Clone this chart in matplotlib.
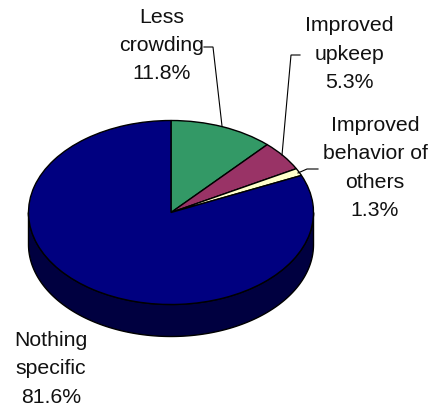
import numpy as np
import matplotlib
matplotlib.use("Agg")
import matplotlib.pyplot as plt

categories = ["Less\ncrowding", "Improved\nupkeep", "Improved\nbehavior of\nothers", "Nothing\nspecific"]
values = [11.8, 5.3, 1.3, 81.6]
colors = ["#339966", "#993366", "#FFFFCC", "#000080"]
side_color = "#000040"

W, H = 432, 409
CX, CY, RX, RY = 171.0, 212.5, 142.5, 92.0
DEPTH = 32.0 / RY

plt.rcParams["font.family"] = ["Liberation Sans"]
fig = plt.figure(figsize=(W / 100, H / 100), dpi=100, facecolor="white")

ax = fig.add_axes([0, 0, 1, 1])
# Side wall of the 3-D disc
t = np.linspace(np.pi, 2 * np.pi, 200)
xs = np.concatenate([np.cos(t), np.cos(t[::-1])])
ys = np.concatenate([np.sin(t) - DEPTH, np.sin(t[::-1])])
ax.fill(xs, ys, facecolor=side_color, edgecolor="black", linewidth=1.0, zorder=1)
ax.pie(values, colors=colors, startangle=90, counterclock=False, radius=1,
       wedgeprops=dict(edgecolor="black", linewidth=1.0, zorder=2))
ax.set_aspect("auto")
ax.set_xlim(-CX / RX, (W - CX) / RX)
ax.set_ylim((CY - H) / RY, CY / RY)
ax.axis("off")

# Overlay in pixel coordinates for labels and leader lines
ov = fig.add_axes([0, 0, 1, 1], facecolor="none")
ov.set_xlim(0, W)
ov.set_ylim(H, 0)
ov.axis("off")

label_pos = [(162, 45.5), (349, 54), (375, 168), (51, 369)]
for name, val, (x, y) in zip(categories, values, label_pos):
    ov.text(x, y, f"{name}\n{val:.1f}%", ha="center", va="center",
            fontsize=15.3, color="#111111", linespacing=1.63)

leaders = [
    ([204, 213, 222], [47, 47, 126]),
    ([300, 291, 282], [55, 55, 155]),
    ([318, 307, 298], [169, 169, 173]),
]
for lx, ly in leaders:
    ov.plot(lx, ly, color="black", linewidth=0.8, solid_joinstyle="miter")

fig.savefig("out.png", dpi=100)
